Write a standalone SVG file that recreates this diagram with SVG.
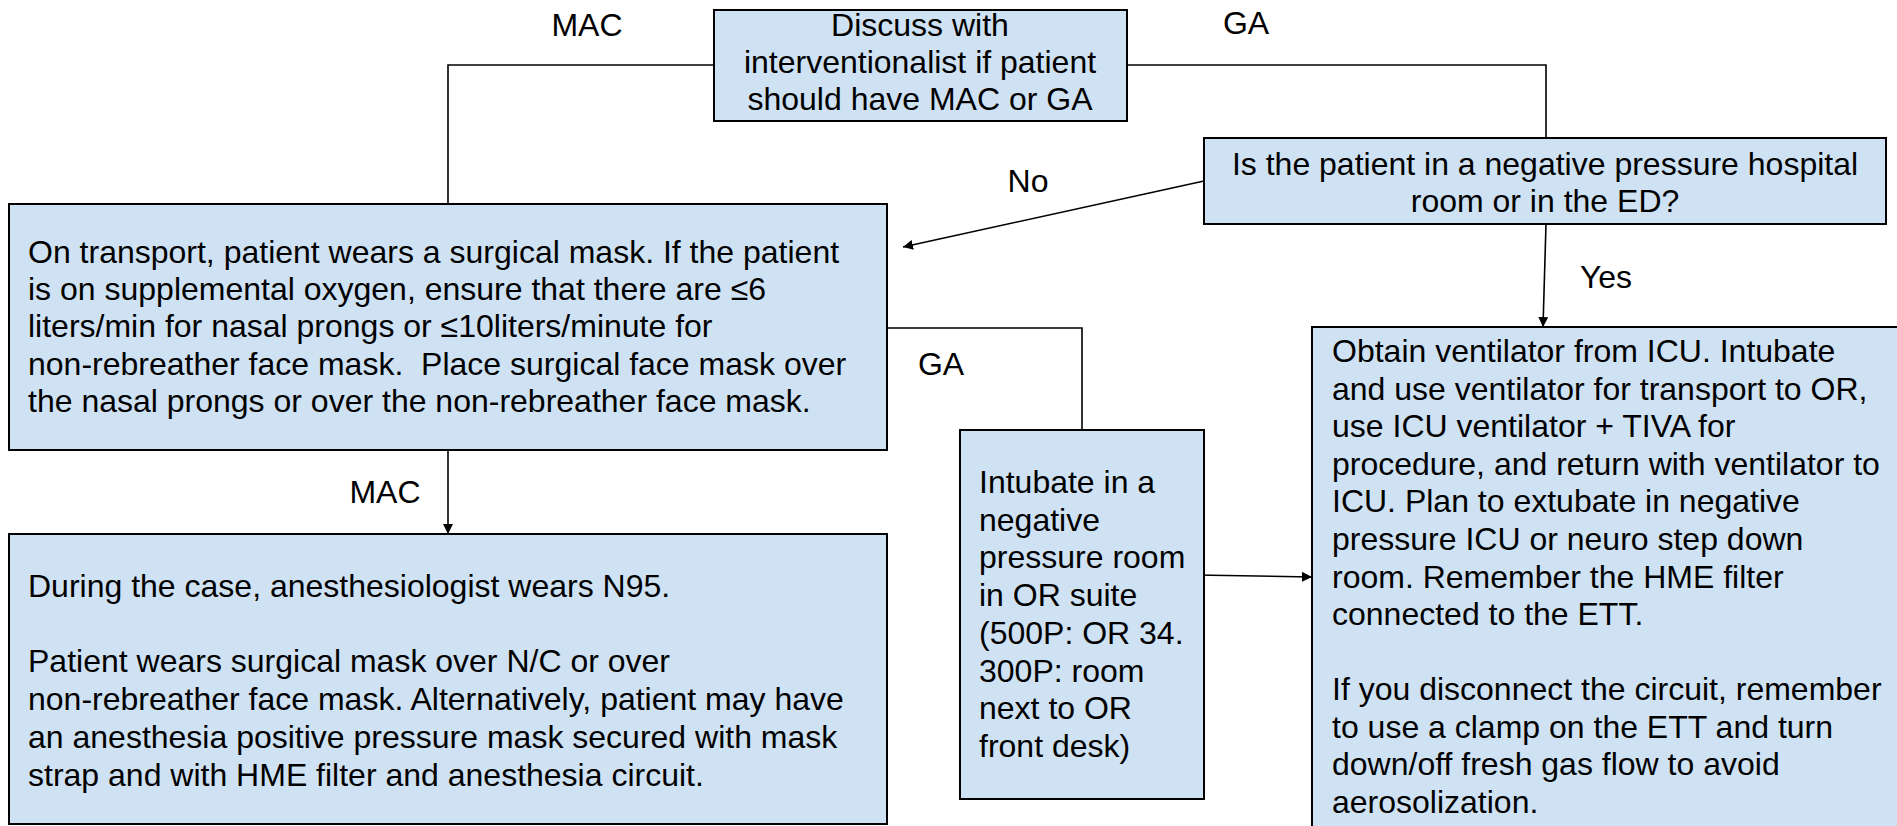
<svg xmlns="http://www.w3.org/2000/svg" width="1897" height="826" viewBox="0 0 1897 826">
  <style>
    .box { fill: #cfe2f3; stroke: #000; stroke-width: 2; }
    .edge { fill: none; stroke: #000; stroke-width: 1.6; }
    .txt { font-family: "Liberation Sans", Arial, sans-serif; font-size: 32px; fill: #000; }
    .mid { text-anchor: middle; }
  </style>
  <defs>
    <marker id="arrow" viewBox="0 0 10 10" refX="10" refY="5" markerWidth="10" markerHeight="10" markerUnits="userSpaceOnUse" orient="auto">
      <path d="M0,0 L10,5 L0,10 z" fill="#000"/>
    </marker>
  </defs>
  <rect width="1897" height="826" fill="#fff"/>

  <!-- connectors -->
  <g id="connectors">
    <polyline class="edge" points="714,65 448,65 448,204"/>
    <polyline class="edge" points="1127,65 1546,65 1546,138"/>
    <line class="edge" x1="1204" y1="181" x2="903" y2="247" marker-end="url(#arrow)"/>
    <line class="edge" x1="1546" y1="224" x2="1543" y2="327" marker-end="url(#arrow)"/>
    <line class="edge" x1="448" y1="451" x2="448" y2="534" marker-end="url(#arrow)"/>
    <polyline class="edge" points="888,328 1082,328 1082,430"/>
    <line class="edge" x1="1196" y1="575" x2="1312" y2="577" marker-end="url(#arrow)"/>
    <text class="txt mid" x="587" y="36">MAC</text>
    <text class="txt mid" x="1246" y="34">GA</text>
    <text class="txt mid" x="1028" y="192">No</text>
    <text class="txt mid" x="1606" y="288">Yes</text>
    <text class="txt mid" x="385" y="503">MAC</text>
    <text class="txt mid" x="941" y="375">GA</text>
  </g>

  <!-- decision: anesthesia type -->
  <g id="discuss">
    <rect class="box" x="714" y="10" width="413" height="111"/>
    <text class="txt mid" x="920" y="36">Discuss with</text>
    <text class="txt mid" x="920" y="73">interventionalist if patient</text>
    <text class="txt mid" x="920" y="110">should have MAC or GA</text>
  </g>

  <!-- decision: patient location -->
  <g id="location">
    <rect class="box" x="1204" y="138" width="682" height="86"/>
    <text class="txt mid" x="1545" y="175">Is the patient in a negative pressure hospital</text>
    <text class="txt mid" x="1545" y="212">room or in the ED?</text>
  </g>

  <!-- transport instructions -->
  <g id="transport">
    <rect class="box" x="9" y="204" width="878" height="246"/>
    <text class="txt" xml:space="preserve">
      <tspan x="28" y="263">On transport, patient wears a surgical mask. If the patient</tspan>
      <tspan x="28" y="300">is on supplemental oxygen, ensure that there are ≤6</tspan>
      <tspan x="28" y="337">liters/min for nasal prongs or ≤10liters/minute for</tspan>
      <tspan x="28" y="375">non-rebreather face mask.  Place surgical face mask over</tspan>
      <tspan x="28" y="412">the nasal prongs or over the non-rebreather face mask.</tspan>
    </text>
  </g>

  <!-- MAC case -->
  <g id="mac-case">
    <rect class="box" x="9" y="534" width="878" height="290"/>
    <text class="txt">
      <tspan x="28" y="597">During the case, anesthesiologist wears N95.</tspan>
      <tspan x="28" y="672">Patient wears surgical mask over N/C or over</tspan>
      <tspan x="28" y="710">non-rebreather face mask. Alternatively, patient may have</tspan>
      <tspan x="28" y="748">an anesthesia positive pressure mask secured with mask</tspan>
      <tspan x="28" y="786">strap and with HME filter and anesthesia circuit.</tspan>
    </text>
  </g>

  <!-- intubation in OR suite -->
  <g id="intubate">
    <rect class="box" x="960" y="430" width="244" height="369"/>
    <text class="txt">
      <tspan x="979" y="493">Intubate in a</tspan>
      <tspan x="979" y="531">negative</tspan>
      <tspan x="979" y="568">pressure room</tspan>
      <tspan x="979" y="606">in OR suite</tspan>
      <tspan x="979" y="644">(500P: OR 34.</tspan>
      <tspan x="979" y="682">300P: room</tspan>
      <tspan x="979" y="719">next to OR</tspan>
      <tspan x="979" y="757">front desk)</tspan>
    </text>
  </g>

  <!-- ICU ventilator path -->
  <g id="ventilator">
    <rect class="box" x="1312" y="327" width="700" height="600"/>
    <text class="txt">
      <tspan x="1332" y="362">Obtain ventilator from ICU. Intubate</tspan>
      <tspan x="1332" y="400">and use ventilator for transport to OR,</tspan>
      <tspan x="1332" y="437">use ICU ventilator + TIVA for</tspan>
      <tspan x="1332" y="475">procedure, and return with ventilator to</tspan>
      <tspan x="1332" y="512">ICU. Plan to extubate in negative</tspan>
      <tspan x="1332" y="550">pressure ICU or neuro step down</tspan>
      <tspan x="1332" y="588">room. Remember the HME filter</tspan>
      <tspan x="1332" y="625">connected to the ETT.</tspan>
      <tspan x="1332" y="700">If you disconnect the circuit, remember</tspan>
      <tspan x="1332" y="738">to use a clamp on the ETT and turn</tspan>
      <tspan x="1332" y="775">down/off fresh gas flow to avoid</tspan>
      <tspan x="1332" y="813">aerosolization.</tspan>
    </text>
  </g>
</svg>
